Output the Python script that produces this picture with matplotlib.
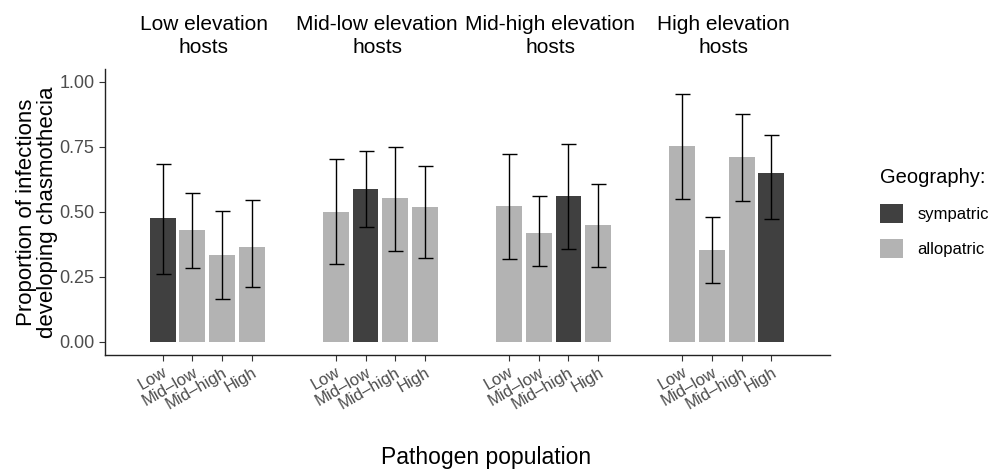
import numpy as np
import matplotlib
matplotlib.use('Agg')
import matplotlib.pyplot as plt
from matplotlib.patches import Patch

plt.rcParams['font.family'] = ['Liberation Sans', 'DejaVu Sans']

hosts = ['Low elevation\nhosts', 'Mid-low elevation\nhosts',
         'Mid-high elevation\nhosts', 'High elevation\nhosts']
pathogens = ['Low', 'Mid\u2013low', 'Mid\u2013high', 'High']

# proportion developing chasmothecia, one row per host group
props = [
    [0.475, 0.430, 0.333, 0.364],
    [0.499, 0.587, 0.553, 0.518],
    [0.522, 0.418, 0.560, 0.449],
    [0.753, 0.353, 0.710, 0.649],
]
err_lo = [
    [0.263, 0.285, 0.165, 0.212],
    [0.300, 0.440, 0.350, 0.322],
    [0.319, 0.291, 0.359, 0.288],
    [0.550, 0.228, 0.541, 0.471],
]
err_hi = [
    [0.685, 0.573, 0.502, 0.545],
    [0.703, 0.733, 0.751, 0.678],
    [0.721, 0.562, 0.760, 0.606],
    [0.951, 0.480, 0.877, 0.795],
]

dark = '#404040'
light = '#b3b3b3'

fig = plt.figure(figsize=(9.98, 4.72), dpi=100)
ax = fig.add_axes([0.1052, 0.2479, 0.7265, 0.6065])

step = 0.173
width = 0.15
xs, labels = [], []
for g in range(len(hosts)):
    for p in range(len(pathogens)):
        x = g + (p - 1.5) * step
        col = dark if g == p else light
        y = props[g][p]
        ax.bar(x, y, width=width, color=col, zorder=2)
        ax.errorbar(x, y, yerr=[[y - err_lo[g][p]], [err_hi[g][p] - y]],
                    fmt='none', ecolor='black', elinewidth=1.0,
                    capsize=5.4, capthick=1.0, zorder=3)
        xs.append(x)
        labels.append(pathogens[p])
    ax.text(g - 0.02, 1.176, hosts[g], ha='center', va='center', fontsize=15,
            linespacing=1.3, transform=ax.transData, clip_on=False)

ax.set_xlim(-0.592, 3.598)
ax.set_ylim(-0.05, 1.05)
ax.set_yticks([0, 0.25, 0.5, 0.75, 1.0])
ax.set_yticklabels(['0.00', '0.25', '0.50', '0.75', '1.00'])
ax.set_xticks(xs)
ax.set_xticklabels(labels, rotation=30, ha='right', rotation_mode='anchor',
                   fontsize=12)
ax.tick_params(axis='y', labelsize=13, colors='#333333', labelcolor='#4d4d4d',
               length=4, width=0.8)
ax.tick_params(axis='x', colors='#333333', labelcolor='#4d4d4d',
               length=4, width=0.8, pad=3)

for s in ['top', 'right']:
    ax.spines[s].set_visible(False)
for s in ['left', 'bottom']:
    ax.spines[s].set_linewidth(1.0)
    ax.spines[s].set_color('#222222')

ax.set_ylabel('Proportion of infections\ndeveloping chasmothecia',
              fontsize=16, linespacing=1.0, labelpad=1)
fig.text(0.487, 0.03, 'Pathogen population', ha='center', va='center',
         fontsize=16.5)

handles = [Patch(facecolor=dark, label='sympatric'),
           Patch(facecolor=light, label='allopatric')]
leg = fig.legend(handles=handles, title='Geography:', loc='center left',
                 bbox_to_anchor=(0.8815, 0.548), frameon=False, fontsize=12,
                 title_fontsize=14.5, handlelength=1.4, handleheight=1.4,
                 labelspacing=0.95, handletextpad=0.85, borderpad=0,
                 borderaxespad=0)
leg._legend_box.align = 'left'
leg._legend_box.sep = 12

fig.savefig('out.png', dpi=100)
